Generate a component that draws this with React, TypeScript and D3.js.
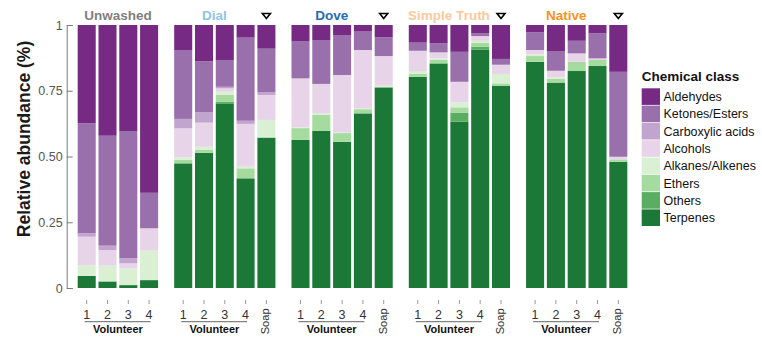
import React, { useEffect, useRef } from 'react';
import * as d3 from 'd3';

// groups (panels) and their title colours
const groups = ['Unwashed', 'Dial', 'Dove', 'Simple Truth', 'Native'];
const groupColors = ['#7f7f7f', '#90c3ec', '#1f6cb5', '#fbc99b', '#f7931e'];
const hasSoap = [false, true, true, true, true];
const volunteers = ['1', '2', '3', '4'];
const soapLabel = 'Soap';

// legend order (top -> bottom)
const classNames = [
  'Aldehydes',
  'Ketones/Esters',
  'Carboxylic acids',
  'Alcohols',
  'Alkanes/Alkenes',
  'Ethers',
  'Others',
  'Terpenes'
];
const classColors = ['#762a83', '#9970ab', '#c2a5cf', '#e7d4e8', '#d9f0d3', '#a6dba0', '#5aae61', '#1b7837'];

// values per bar: Unwashed 1-4, Dial 1-4+Soap, Dove 1-4+Soap, Simple Truth 1-4+Soap, Native 1-4+Soap
const aldehydes = [0.374, 0.421, 0.403, 0.638, 0.095, 0.138, 0.133, 0.048, 0.09, 0.061, 0.057, 0.038, 0.025, 0.047, 0.067, 0.07, 0.102, 0.032, 0.129, 0.028, 0.099, 0.06, 0.032, 0.178];
const ketones = [0.418, 0.418, 0.484, 0.135, 0.262, 0.194, 0.102, 0.316, 0.166, 0.142, 0.167, 0.152, 0.07, 0.071, 0.031, 0.034, 0.114, 0.01, 0.022, 0.067, 0.075, 0.048, 0.095, 0.323];
const carboxylic = [0.013, 0.017, 0.019, 0, 0.036, 0.039, 0.006, 0.012, 0.01, 0, 0, 0, 0, 0, 0, 0, 0, 0, 0, 0, 0, 0, 0, 0];
const alcohols = [0.108, 0.059, 0.019, 0.085, 0.11, 0.092, 0.013, 0.163, 0.095, 0.186, 0.112, 0.218, 0.222, 0.113, 0.077, 0.023, 0.078, 0.018, 0.035, 0.017, 0.025, 0.032, 0.006, 0.01];
const alkanes = [0.041, 0.06, 0.064, 0.112, 0.01, 0.012, 0.012, 0.006, 0.067, 0.003, 0.006, 0.003, 0.003, 0.006, 0.011, 0.006, 0.019, 0.007, 0.036, 0.006, 0.006, 0, 0, 0];
const ethers = [0, 0, 0, 0, 0.013, 0.011, 0.026, 0.038, 0, 0.045, 0.06, 0.033, 0.016, 0, 0.011, 0.013, 0.02, 0.015, 0.01, 0.022, 0.014, 0.035, 0.023, 0.009];
const others = [0, 0, 0, 0, 0, 0, 0.006, 0, 0, 0, 0, 0, 0, 0, 0, 0, 0.035, 0.011, 0, 0, 0, 0, 0, 0];
const terpenes = [0.046, 0.025, 0.011, 0.03, 0.474, 0.514, 0.702, 0.417, 0.572, 0.563, 0.598, 0.556, 0.664, 0.763, 0.803, 0.854, 0.632, 0.907, 0.768, 0.86, 0.781, 0.825, 0.844, 0.48];

const yTicks = [0, 0.25, 0.5, 0.75, 1];
const yTickLabels = ['0', '0.25', '0.50', '0.75', '1'];

const FONT = "Arial, 'Liberation Sans', sans-serif";

const App: React.FC = () => {
  const svgRef = useRef<SVGSVGElement>(null);
  const width = 762;
  const height = 352;

  useEffect(() => {
    if (!svgRef.current) return;
    const svg = d3.select(svgRef.current);
    svg.selectAll('*').remove();

    const y = d3.scaleLinear().domain([0, 1]).range([288, 25]);

    // build rows for the stack
    const seriesByClass: Record<string, number[]> = {
      Aldehydes: aldehydes,
      'Ketones/Esters': ketones,
      'Carboxylic acids': carboxylic,
      Alcohols: alcohols,
      'Alkanes/Alkenes': alkanes,
      Ethers: ethers,
      Others: others,
      Terpenes: terpenes
    };

    const samples: { group: number; label: string; key: string }[] = [];
    groups.forEach((g, gi) => {
      const labels = hasSoap[gi] ? [...volunteers, soapLabel] : volunteers;
      labels.forEach(l => samples.push({ group: gi, label: l, key: `${g}-${l}` }));
    });

    const rows = samples.map((s, i) => {
      const row: Record<string, number | string> = { key: s.key };
      classNames.forEach(c => (row[c] = seriesByClass[c][i]));
      return row;
    });

    const stackKeys = [...classNames].reverse();
    const stacked = d3.stack<Record<string, number | string>>().keys(stackKeys)(rows as any);
    const color = d3.scaleOrdinal<string, string>().domain(classNames).range(classColors);

    // panel x scales
    const step = 20.8;
    const panelGap = 13.3;
    let start = 76.3;
    const xScales: d3.ScaleBand<string>[] = [];
    groups.forEach((g, gi) => {
      const labels = hasSoap[gi] ? [...volunteers, soapLabel] : volunteers;
      const sc = d3
        .scaleBand<string>()
        .domain(labels)
        .range([start, start + labels.length * step])
        .paddingInner(0.133)
        .paddingOuter(0.0665);
      xScales.push(sc);
      start += labels.length * step + panelGap;
    });

    const xOf = (i: number) => xScales[samples[i].group](samples[i].label) as number;

    // bars
    const layer = svg
      .append('g')
      .selectAll('g')
      .data(stacked)
      .enter()
      .append('g')
      .attr('fill', d => color(d.key));

    layer
      .selectAll('rect')
      .data(d => d.map((v, i) => ({ v, i })))
      .enter()
      .append('rect')
      .attr('x', d => xOf(d.i))
      .attr('width', d => xScales[samples[d.i].group].bandwidth())
      .attr('y', d => y(d.v[1]))
      .attr('height', d => Math.max(0, y(d.v[0]) - y(d.v[1])));

    // y axis
    const yAxis = d3
      .axisLeft(y)
      .tickValues(yTicks)
      .tickFormat((d, i) => yTickLabels[i])
      .tickSizeInner(-6)
      .tickSizeOuter(-6)
      .tickPadding(4);

    const ya = svg.append('g').attr('transform', 'translate(66.7,0)').call(yAxis);
    ya.select('.domain').attr('stroke', '#7a7a7a');
    ya.selectAll('.tick line').attr('stroke', '#7a7a7a');
    ya.selectAll('.tick text')
      .attr('fill', '#555')
      .style('font-size', '12.5px')
      .style('font-family', FONT);

    svg
      .append('text')
      .attr('transform', 'translate(29.5,139) rotate(-90)')
      .attr('text-anchor', 'middle')
      .style('font-size', '17.5px')
      .style('font-weight', 'bold')
      .style('font-family', FONT)
      .attr('fill', '#1a1a1a')
      .text('Relative abundance (%)');

    // panel titles, x labels
    groups.forEach((g, gi) => {
      const sc = xScales[gi];
      const c1 = (sc('1') as number) + sc.bandwidth() / 2;
      const c4 = (sc('4') as number) + sc.bandwidth() / 2;
      const mid = (c1 + c4) / 2;

      svg
        .append('text')
        .attr('x', mid)
        .attr('y', 20)
        .attr('text-anchor', 'middle')
        .style('font-size', '13.5px')
        .style('font-weight', 'bold')
        .style('font-family', FONT)
        .attr('fill', groupColors[gi])
        .text(g);

      const labels = sc.domain();
      labels.forEach(l => {
        const cx = (sc(l) as number) + sc.bandwidth() / 2;
        svg
          .append('line')
          .attr('x1', cx)
          .attr('x2', cx)
          .attr('y1', 300)
          .attr('y2', 304)
          .attr('stroke', '#999')
          .attr('stroke-width', 1);
        if (l === soapLabel) {
          svg
            .append('text')
            .attr('transform', `translate(${cx + 3},321.3) rotate(-90)`)
            .attr('text-anchor', 'middle')
            .style('font-size', '11.2px')
            .style('font-family', FONT)
            .attr('fill', '#333')
            .text(l);
          // soap marker
          svg
            .append('path')
            .attr('d', `M${cx - 4},13.5L${cx + 4},13.5L${cx},18.5Z`)
            .attr('fill', '#fff')
            .attr('stroke', '#000')
            .attr('stroke-width', 1.6)
            .attr('stroke-linejoin', 'miter');
        } else {
          svg
            .append('text')
            .attr('x', cx)
            .attr('y', 319)
            .attr('text-anchor', 'middle')
            .style('font-size', '12.5px')
            .style('font-family', FONT)
            .attr('fill', '#333')
            .text(l);
        }
      });

      svg
        .append('line')
        .attr('x1', c1 - 2)
        .attr('x2', c4 + 1.5)
        .attr('y1', 321.7)
        .attr('y2', 321.7)
        .attr('stroke', '#666')
        .attr('stroke-width', 1);

      svg
        .append('text')
        .attr('x', mid)
        .attr('y', 332.5)
        .attr('text-anchor', 'middle')
        .style('font-size', '11px')
        .style('font-weight', 'bold')
        .style('font-family', FONT)
        .attr('fill', '#111')
        .text('Volunteer');
    });

    // legend
    const legend = svg.append('g').attr('transform', 'translate(641.7,0)');
    legend
      .append('text')
      .attr('x', 0)
      .attr('y', 81)
      .style('font-size', '13.5px')
      .style('font-weight', 'bold')
      .style('font-family', FONT)
      .attr('fill', '#111')
      .text('Chemical class');

    const items = legend
      .selectAll('.item')
      .data(classNames)
      .enter()
      .append('g')
      .attr('class', 'item')
      .attr('transform', (d, i) => `translate(0,${88.3 + i * 17.3})`);

    items
      .append('rect')
      .attr('width', 18.3)
      .attr('height', 16.6)
      .attr('fill', d => color(d));

    items
      .append('text')
      .attr('x', 21.8)
      .attr('y', 8.5)
      .attr('dy', '0.35em')
      .style('font-size', '12.5px')
      .style('font-family', FONT)
      .attr('fill', '#111')
      .text(d => d);
  }, []);

  return (
    <svg
      ref={svgRef}
      width={width}
      height={height}
      style={{ position: 'absolute', left: 0, top: 0, background: '#fff', display: 'block' }}
    />
  );
};

export default App;
